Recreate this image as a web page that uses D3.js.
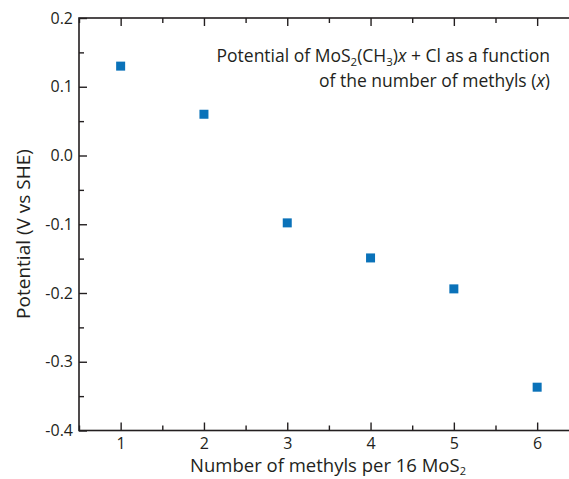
<!DOCTYPE html>
<html><head><meta charset="utf-8">
<script src="https://cdn.jsdelivr.net/npm/d3@7"></script>
<style>
body{margin:0;background:#fff;}
svg text{font-family:"Open Sans",sans-serif;fill:#231f20;}
</style></head>
<body>
<svg id="c" width="569" height="479"></svg>
<script>
const methyls = [1, 2, 3, 4, 5, 6];
const potential = [0.13, 0.06, -0.098, -0.149, -0.194, -0.337];
const xTicks = [1, 2, 3, 4, 5, 6];
const yTicks = [0.2, 0.1, 0.0, -0.1, -0.2, -0.3, -0.4];

const svg = d3.select("#c");
const L = 79, T = 18, B = 430.5;
const x = d3.scaleLinear().domain([0.5, 6.5]).range([L, L + 83.3 * 6]);
const y = d3.scaleLinear().domain([-0.4, 0.2]).range([B, T]);
const ink = "#231f20";

// frame
svg.append("rect").attr("x", x(0.5)).attr("y", y(0.2))
  .attr("width", x(6.5) - x(0.5)).attr("height", y(-0.4) - y(0.2))
  .attr("fill", "none").attr("stroke", ink).attr("stroke-width", 1.6);

const xMinor = d3.range(0.5, 6.51, 0.5).filter(v => !Number.isInteger(v));
const yMinor = d3.range(-0.35, 0.2, 0.1);

function styleTicks(g) {
  g.select(".domain").remove();
  g.selectAll("line").attr("stroke", ink).attr("stroke-width", 1.4);
  g.selectAll("text").attr("font-size", 16).attr("fill", ink)
    .style("font-family", "'Open Sans',sans-serif");
}

// bottom axis
svg.append("g").attr("transform", `translate(0,${B})`)
  .call(d3.axisBottom(x).tickValues(xTicks).tickSize(-8).tickPadding(7).tickFormat(d3.format("d")))
  .call(styleTicks);
svg.append("g").attr("transform", `translate(0,${B})`)
  .call(d3.axisBottom(x).tickValues(xMinor).tickSize(-5).tickFormat(""))
  .call(styleTicks);

// top axis (mirror ticks)
svg.append("g").attr("transform", `translate(0,${T})`)
  .call(d3.axisTop(x).tickValues(xTicks).tickSize(-8).tickFormat(""))
  .call(styleTicks);
svg.append("g").attr("transform", `translate(0,${T})`)
  .call(d3.axisTop(x).tickValues(xMinor).tickSize(-5).tickFormat(""))
  .call(styleTicks);

// left axis
const fmtY = v => d3.format(".1f")(v).replace("\u2212", "-");
svg.append("g").attr("transform", `translate(${L},0)`)
  .call(d3.axisLeft(y).tickValues(yTicks).tickSize(-8).tickPadding(6).tickFormat(fmtY))
  .call(styleTicks);
svg.append("g").attr("transform", `translate(${L},0)`)
  .call(d3.axisLeft(y).tickValues(yMinor).tickSize(-5).tickFormat(""))
  .call(styleTicks);

// points
const s = 9;
svg.append("g").selectAll("rect").data(methyls).join("rect")
  .attr("x", (d) => x(d) - s / 2)
  .attr("y", (d, i) => y(potential[i]) - s / 2)
  .attr("width", s).attr("height", s).attr("fill", "#0a72b9");

// axis titles
const xt = svg.append("text").attr("x", 328).attr("y", 472).attr("text-anchor", "middle").attr("font-size", 18.5);
xt.append("tspan").text("Number of methyls per 16 MoS");
xt.append("tspan").attr("font-size", 11).attr("dy", 3).text("2");

svg.append("text").attr("transform", `translate(30,234) rotate(-90)`)
  .attr("text-anchor", "middle").attr("font-size", 19).text("Potential (V vs SHE)");

// annotation
const a1 = svg.append("text").attr("x", 550).attr("y", 62).attr("text-anchor", "end").attr("font-size", 17.5);
a1.append("tspan").text("Potential of MoS");
a1.append("tspan").attr("font-size", 11.5).attr("dy", 4).text("2");
a1.append("tspan").attr("dy", -4).text("(CH");
a1.append("tspan").attr("font-size", 11.5).attr("dy", 4).text("3");
a1.append("tspan").attr("dy", -4).text(")");
a1.append("tspan").attr("font-style", "italic").text("x");
a1.append("tspan").text(" + Cl as a function");
const a2 = svg.append("text").attr("x", 550).attr("y", 87).attr("text-anchor", "end").attr("font-size", 17.5);
a2.append("tspan").text("of the number of methyls (");
a2.append("tspan").attr("font-style", "italic").text("x");
a2.append("tspan").text(")");
</script>
</body></html>
